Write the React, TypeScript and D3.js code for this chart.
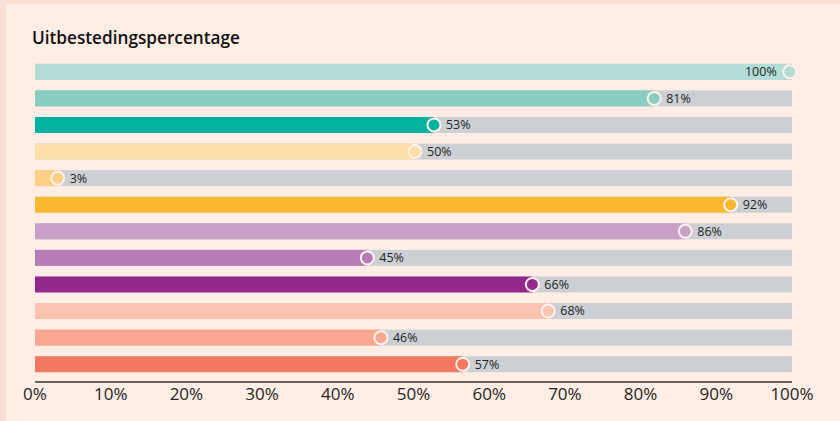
import React from "react";
import * as d3 from "d3";

const categories = ["c1", "c2", "c3", "c4", "c5", "c6", "c7", "c8", "c9", "c10", "c11", "c12"];
// positions
const values = [99.7, 81.8, 52.7, 50.2, 3.0, 91.9, 85.9, 43.9, 65.7, 67.8, 45.7, 56.5];
// labels as printed
const labels = ["100%", "81%", "53%", "50%", "3%", "92%", "86%", "45%", "66%", "68%", "46%", "57%"];
const colors = [
  "#b2dcd6", "#8acdc1", "#01b2a0",
  "#fedea9", "#fdd086", "#f8b830",
  "#c9a0c8", "#b57cb7", "#93288d",
  "#fbc4b0", "#f8a890", "#f27862",
];
const ticks = [0, 10, 20, 30, 40, 50, 60, 70, 80, 90, 100];
const title = "Uitbestedingspercentage";

const W = 840;
const H = 421;
const FONT = "'Open Sans', 'Noto Sans', sans-serif";

export default function App() {
  const x = d3.scaleLinear().domain([0, 100]).range([35, 792]);
  const y = d3.scaleBand().domain(categories).range([58.5, 377.5]).paddingInner(0.4).paddingOuter(0.2);
  const bh = y.bandwidth();
  return (
    <svg width={W} height={H} style={{ position: "absolute", left: 0, top: 0 }}>
      <rect x={0} y={0} width={W} height={H} fill="#fcdfd4" />
      <rect x={6} y={4} width={W - 6} height={H - 4} fill="#ffede6" />
      <text x={32} y={44} fontFamily={FONT} fontWeight={600} fontSize={17.2} fill="#111">
        {title}
      </text>
      {categories.map((c, i) => {
        const v = values[i];
        const yy = y(c)!;
        const cx = x(v);
        const cy = yy + bh / 2;
        const isFull = v >= 99;
        return (
          <g key={c}>
            <rect x={x(0)} y={yy} width={x(100) - x(0)} height={bh} fill="#ccd0d4" />
            <rect x={x(0)} y={yy} width={cx - x(0)} height={bh} fill={colors[i]} />
            <circle cx={cx} cy={cy} r={6.5} fill={colors[i]} stroke="#fff1ea" strokeWidth={2} />
            <text
              x={isFull ? cx - 13 : cx + 12}
              y={cy}
              dy="0.35em"
              textAnchor={isFull ? "end" : "start"}
              fontFamily={FONT}
              fontSize={12.5}
              fill="#252423"
            >
              {labels[i]}
            </text>
          </g>
        );
      })}
      <line x1={x(0)} x2={x(100)} y1={382} y2={382} stroke="#333" strokeWidth={1.5} />
      {ticks.map((t) => (
        <text
          key={t}
          x={x(t)}
          y={400}
          textAnchor="middle"
          fontFamily={FONT}
          fontSize={17}
          fill="#252423"
        >
          {`${t}%`}
        </text>
      ))}
    </svg>
  );
}
